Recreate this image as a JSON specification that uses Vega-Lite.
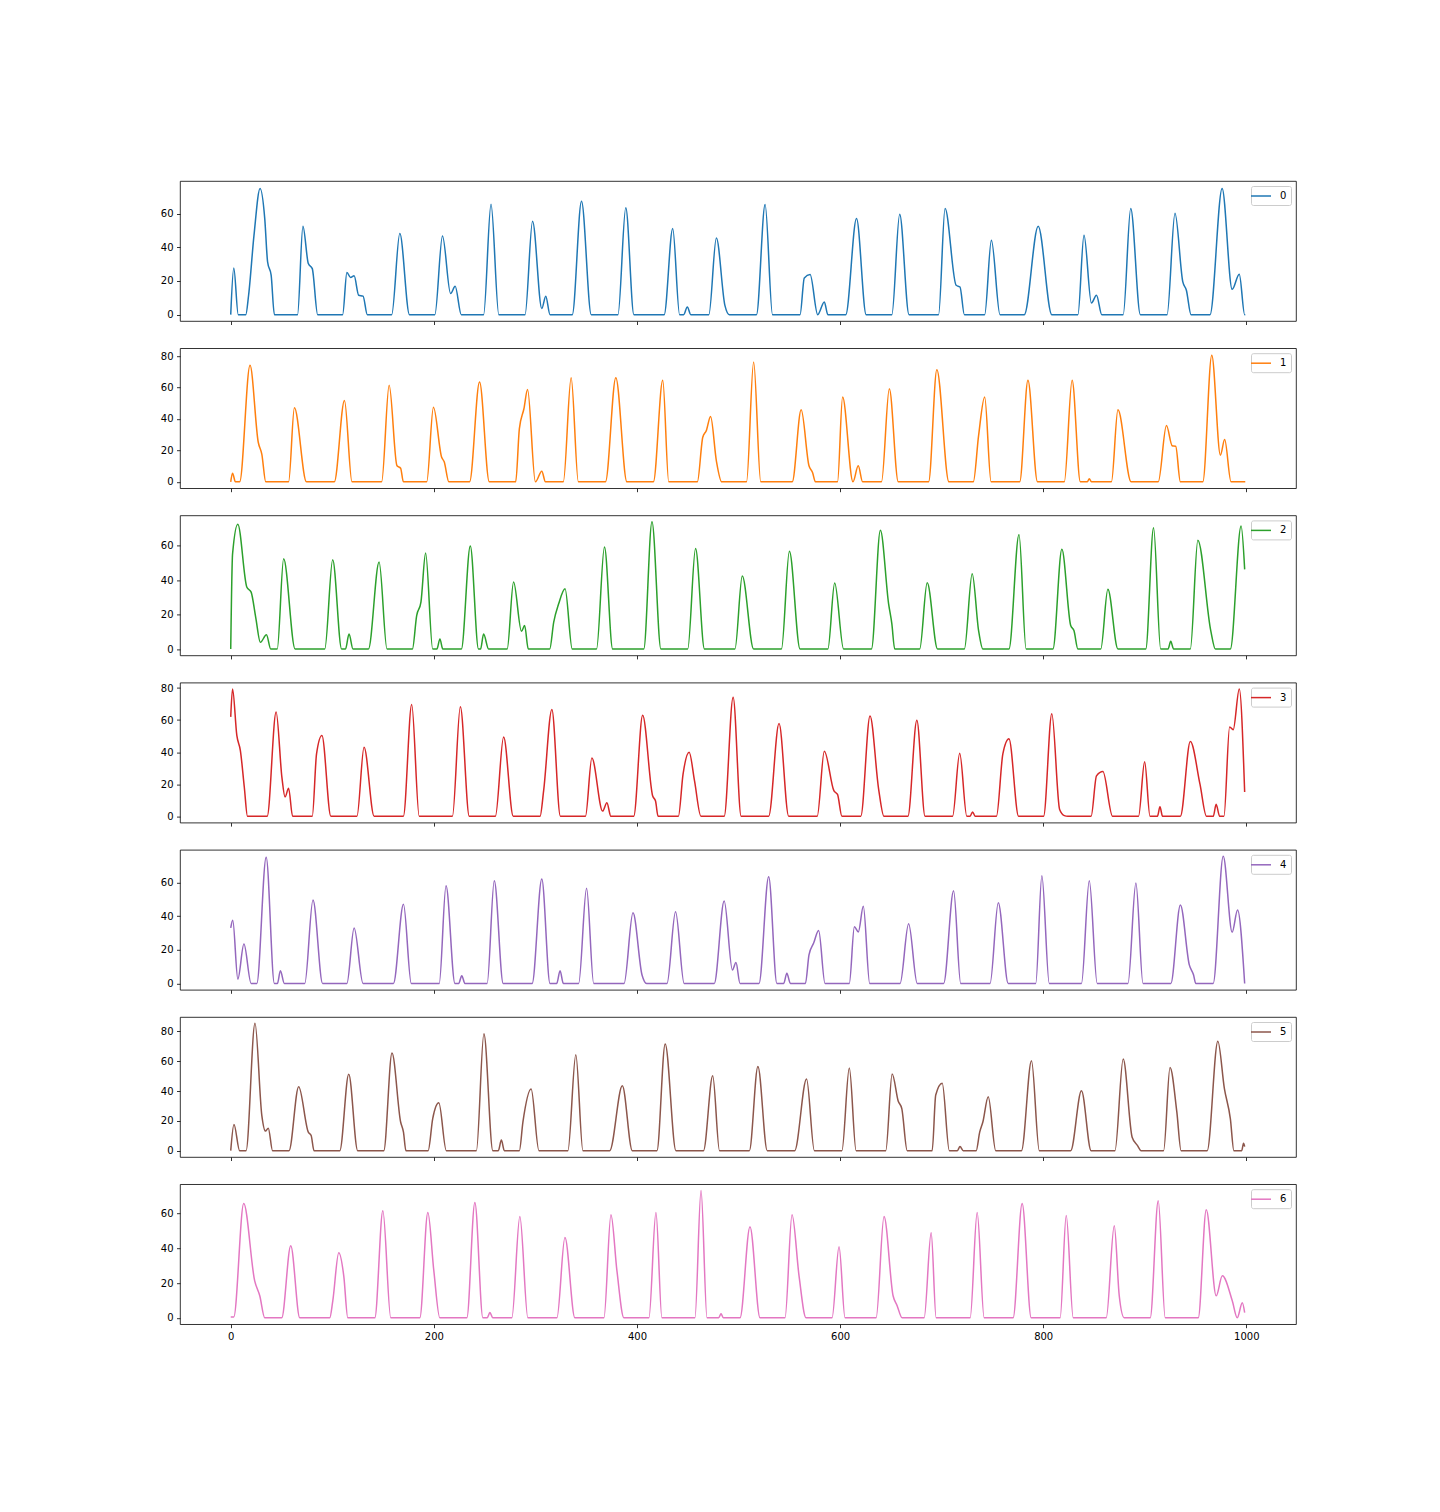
{
"$schema": "https://vega.github.io/schema/vega-lite/v6.json",
"background": "white",
"padding": {"left": 159, "top": 180, "right": 5, "bottom": 5},
"autosize": {"type": "pad"},
"spacing": 27.2,
"bounds": "flush",
"resolve": {"scale": {"color": "independent"}, "legend": {"color": "independent"}},
"datasets": {
"d0": [{"x":0,"v":0},{"x":3,"v":27.7},{"x":7.4,"v":0},{"x":14.8,"v":0},{"x":17.6,"v":11.5},{"x":22.9,"v":47},{"x":28.9,"v":74.9},{"x":33.5,"v":57},{"x":36.3,"v":31.3},{"x":39.8,"v":23.4},{"x":43,"v":0},{"x":65.8,"v":0},{"x":71.1,"v":52.5},{"x":76.4,"v":30.3},{"x":80.3,"v":27.3},{"x":85.6,"v":0},{"x":110.2,"v":0},{"x":114.4,"v":25},{"x":118,"v":22},{"x":121.5,"v":23},{"x":126,"v":11.5},{"x":130.3,"v":11},{"x":134.5,"v":0},{"x":158.5,"v":0},{"x":166.5,"v":48.1},{"x":176,"v":0},{"x":201,"v":0},{"x":208.5,"v":46.7},{"x":216.5,"v":12.5},{"x":221,"v":16.8},{"x":227,"v":0},{"x":249,"v":0},{"x":256.3,"v":65.5},{"x":264,"v":0},{"x":289.8,"v":0},{"x":297.2,"v":55.4},{"x":306.3,"v":3.6},{"x":310.2,"v":10.9},{"x":314.4,"v":0},{"x":336.3,"v":0},{"x":345.4,"v":67.3},{"x":355,"v":0},{"x":381.3,"v":0},{"x":389,"v":63.4},{"x":397,"v":0},{"x":426.8,"v":0},{"x":435.2,"v":51.1},{"x":442,"v":0},{"x":446,"v":0},{"x":449.6,"v":4.5},{"x":453,"v":0},{"x":470.8,"v":0},{"x":478.2,"v":45.5},{"x":486.6,"v":5.5},{"x":491,"v":0},{"x":517.7,"v":0},{"x":526.2,"v":65.3},{"x":533.5,"v":0},{"x":560.6,"v":0},{"x":564.8,"v":21.8},{"x":570.5,"v":23.8},{"x":578,"v":0},{"x":584.5,"v":7.5},{"x":588,"v":0},{"x":605.6,"v":0},{"x":616.2,"v":57},{"x":625.7,"v":0},{"x":651,"v":0},{"x":658.7,"v":59.6},{"x":667.9,"v":0},{"x":697,"v":0},{"x":703.4,"v":63},{"x":714.3,"v":17.4},{"x":718.1,"v":16.4},{"x":722.4,"v":0},{"x":742.4,"v":0},{"x":749,"v":44.2},{"x":757.5,"v":0},{"x":781.4,"v":0},{"x":795.1,"v":52.5},{"x":808.5,"v":0},{"x":834.2,"v":0},{"x":840.2,"v":47.1},{"x":847.5,"v":6.9},{"x":852.5,"v":11.5},{"x":857.7,"v":0},{"x":878.8,"v":0},{"x":886.2,"v":63},{"x":895.7,"v":0},{"x":922,"v":0},{"x":929.8,"v":60.2},{"x":937.5,"v":19.4},{"x":941,"v":14.5},{"x":945.6,"v":0},{"x":964.3,"v":0},{"x":976.2,"v":74.9},{"x":986.1,"v":15},{"x":993.1,"v":24},{"x":998.4,"v":0},{"x":999,"v":0}],
"d1": [{"x":0,"v":0},{"x":1.8,"v":5.5},{"x":4.6,"v":0},{"x":8.8,"v":0},{"x":19,"v":74.2},{"x":27.1,"v":25.2},{"x":30.6,"v":17.7},{"x":34.5,"v":0},{"x":57,"v":0},{"x":62.7,"v":47.1},{"x":74.6,"v":0},{"x":102,"v":0},{"x":112,"v":51.8},{"x":119.4,"v":0},{"x":148.6,"v":0},{"x":156,"v":61.4},{"x":163.7,"v":10.2},{"x":167.3,"v":8.7},{"x":170,"v":0},{"x":193,"v":0},{"x":199.6,"v":47.5},{"x":207.7,"v":15.6},{"x":210.2,"v":12.8},{"x":214.8,"v":0},{"x":235.2,"v":0},{"x":245,"v":63.5},{"x":254.6,"v":0},{"x":280.6,"v":0},{"x":284.2,"v":33.7},{"x":288.7,"v":46.5},{"x":292.3,"v":58.8},{"x":300,"v":0},{"x":306.3,"v":6.8},{"x":309.9,"v":0},{"x":327.5,"v":0},{"x":335.2,"v":66.3},{"x":342.3,"v":0},{"x":369,"v":0},{"x":379.2,"v":66.3},{"x":390.1,"v":0},{"x":416.2,"v":0},{"x":425.4,"v":64.6},{"x":431.3,"v":0},{"x":459.5,"v":0},{"x":464.8,"v":28.4},{"x":468.3,"v":32.6},{"x":472.5,"v":41.6},{"x":478.2,"v":13.4},{"x":483.5,"v":0},{"x":507.9,"v":0},{"x":514.9,"v":76.3},{"x":521.9,"v":0},{"x":552.9,"v":0},{"x":561.7,"v":45.8},{"x":569.4,"v":10.2},{"x":572.9,"v":6},{"x":575.7,"v":0},{"x":597.5,"v":0},{"x":602.5,"v":54},{"x":612.7,"v":0},{"x":617.9,"v":10.2},{"x":622.2,"v":0},{"x":640.8,"v":0},{"x":648.5,"v":59.3},{"x":657.3,"v":0},{"x":687.2,"v":0},{"x":695.3,"v":71.4},{"x":707.2,"v":0},{"x":731.2,"v":0},{"x":736.4,"v":29.4},{"x":742.4,"v":54},{"x":748.7,"v":0},{"x":776.9,"v":0},{"x":785,"v":64.6},{"x":794.4,"v":0},{"x":820.8,"v":0},{"x":828.5,"v":64.6},{"x":836.6,"v":0},{"x":843.5,"v":0},{"x":845.4,"v":2},{"x":847.5,"v":0},{"x":867.2,"v":0},{"x":873.6,"v":45.8},{"x":886.6,"v":0},{"x":913.3,"v":0},{"x":921.4,"v":35.8},{"x":927,"v":23},{"x":930.5,"v":22.6},{"x":935.1,"v":0},{"x":957.2,"v":0},{"x":966,"v":80.6},{"x":974.5,"v":17},{"x":978.7,"v":26.9},{"x":985,"v":0},{"x":999,"v":0}],
"d2": [{"x":0,"v":0},{"x":1.8,"v":55},{"x":7,"v":72.4},{"x":15.8,"v":36},{"x":20.1,"v":33},{"x":24.6,"v":18.4},{"x":29.2,"v":3.9},{"x":35.2,"v":8.3},{"x":39.4,"v":0},{"x":45.8,"v":0},{"x":52.1,"v":52.4},{"x":63.4,"v":0},{"x":92.6,"v":0},{"x":100.4,"v":51.8},{"x":109.2,"v":0},{"x":113,"v":0},{"x":116.5,"v":8.7},{"x":120.4,"v":0},{"x":135.6,"v":0},{"x":146.1,"v":50.5},{"x":153.9,"v":0},{"x":178.9,"v":0},{"x":183.1,"v":19.4},{"x":187.3,"v":27.2},{"x":191.9,"v":55.7},{"x":198.9,"v":0},{"x":203,"v":0},{"x":206,"v":5.8},{"x":208.8,"v":0},{"x":227.1,"v":0},{"x":235.9,"v":59.8},{"x":244,"v":0},{"x":246,"v":0},{"x":249,"v":8.7},{"x":253.9,"v":0},{"x":272.2,"v":0},{"x":278.5,"v":38.8},{"x":286.3,"v":10.3},{"x":289.4,"v":13.6},{"x":293,"v":0},{"x":314.1,"v":0},{"x":318,"v":15.5},{"x":322.9,"v":26.2},{"x":329.2,"v":35},{"x":336.3,"v":0},{"x":360.2,"v":0},{"x":368,"v":59.2},{"x":376.1,"v":0},{"x":406.7,"v":0},{"x":414.8,"v":73.8},{"x":423.6,"v":0},{"x":450,"v":0},{"x":457.7,"v":58.3},{"x":466.5,"v":0},{"x":496.5,"v":0},{"x":503.7,"v":42.3},{"x":514.9,"v":0},{"x":542.3,"v":0},{"x":550.1,"v":56.7},{"x":560.6,"v":0},{"x":588,"v":0},{"x":594.7,"v":38.3},{"x":603.5,"v":0},{"x":630.9,"v":0},{"x":639.7,"v":68.9},{"x":647.8,"v":26.2},{"x":651,"v":14.6},{"x":653.8,"v":0},{"x":678.4,"v":0},{"x":685.8,"v":38.4},{"x":696,"v":0},{"x":722.4,"v":0},{"x":730.1,"v":43.7},{"x":736.4,"v":10.7},{"x":740.6,"v":0},{"x":766.3,"v":0},{"x":776.2,"v":66.4},{"x":783.2,"v":0},{"x":809.6,"v":0},{"x":818.4,"v":57.9},{"x":827.1,"v":13.6},{"x":830.3,"v":10.7},{"x":834.2,"v":0},{"x":856.7,"v":0},{"x":863.7,"v":34.6},{"x":873.6,"v":0},{"x":901,"v":0},{"x":908.7,"v":70.3},{"x":915.7,"v":0},{"x":923,"v":0},{"x":925.6,"v":4.5},{"x":928.4,"v":0},{"x":944.9,"v":0},{"x":952.3,"v":63.1},{"x":965,"v":10.7},{"x":969.6,"v":0},{"x":984.3,"v":0},{"x":994.9,"v":71.3},{"x":998.4,"v":46.2}],
"d3": [{"x":0,"v":62},{"x":1.8,"v":79.4},{"x":6,"v":50.4},{"x":9.5,"v":41},{"x":13.4,"v":17.9},{"x":16.5,"v":0},{"x":35.9,"v":0},{"x":44.7,"v":65.1},{"x":50.4,"v":24.2},{"x":53.5,"v":12},{"x":57,"v":17.4},{"x":60.9,"v":0},{"x":80.3,"v":0},{"x":84.5,"v":38.9},{"x":89.8,"v":50.4},{"x":98.6,"v":0},{"x":124.3,"v":0},{"x":131.3,"v":43},{"x":141.2,"v":0},{"x":170,"v":0},{"x":178.2,"v":69.7},{"x":185.6,"v":0},{"x":218.3,"v":0},{"x":226.1,"v":68.3},{"x":234.9,"v":0},{"x":260.6,"v":0},{"x":268.7,"v":49.4},{"x":278.2,"v":0},{"x":304.6,"v":0},{"x":308.1,"v":15.8},{"x":316.2,"v":66.6},{"x":324.6,"v":0},{"x":349.3,"v":0},{"x":355.6,"v":36.3},{"x":366.2,"v":3.2},{"x":370.4,"v":8.4},{"x":374.3,"v":0},{"x":396.8,"v":0},{"x":405.6,"v":63},{"x":415.5,"v":12.6},{"x":418.3,"v":9.5},{"x":420.8,"v":0},{"x":440.8,"v":0},{"x":445.4,"v":26.3},{"x":451.4,"v":39.9},{"x":456.7,"v":22},{"x":463,"v":0},{"x":485.9,"v":0},{"x":494.7,"v":74.2},{"x":502.6,"v":0},{"x":529.7,"v":0},{"x":539.9,"v":57.8},{"x":549.4,"v":0},{"x":577.5,"v":0},{"x":584.5,"v":40.5},{"x":594,"v":15.8},{"x":597.5,"v":13.6},{"x":601.8,"v":0},{"x":620.4,"v":0},{"x":629.5,"v":62.6},{"x":638,"v":16.8},{"x":643.2,"v":0},{"x":666.8,"v":0},{"x":675.6,"v":59.9},{"x":683.7,"v":0},{"x":710.8,"v":0},{"x":717.8,"v":39.3},{"x":724.8,"v":0},{"x":728,"v":0},{"x":730.5,"v":2.7},{"x":733,"v":0},{"x":754,"v":0},{"x":760.3,"v":38.9},{"x":766.3,"v":48.3},{"x":775.8,"v":0},{"x":800.4,"v":0},{"x":808.5,"v":64},{"x":816.2,"v":4.2},{"x":820.8,"v":0.4},{"x":824.3,"v":0},{"x":847.2,"v":0},{"x":852.5,"v":25.2},{"x":858.8,"v":27.9},{"x":868.3,"v":0},{"x":893.9,"v":0},{"x":899.9,"v":34},{"x":905.2,"v":0},{"x":912.5,"v":0},{"x":915,"v":5.9},{"x":917.5,"v":0},{"x":935.1,"v":0},{"x":944.9,"v":46.6},{"x":954.4,"v":20},{"x":960.8,"v":0},{"x":967.5,"v":0},{"x":970.3,"v":7.4},{"x":973.8,"v":0},{"x":978,"v":0},{"x":983.6,"v":55.7},{"x":987.1,"v":54},{"x":993.1,"v":79.4},{"x":998.4,"v":15.1}],
"d4": [{"x":0,"v":33},{"x":2,"v":37.6},{"x":7,"v":2.6},{"x":13,"v":23.4},{"x":20.1,"v":0},{"x":25.7,"v":0},{"x":34.9,"v":75},{"x":43,"v":0},{"x":46,"v":0},{"x":48.9,"v":7.6},{"x":52.8,"v":0},{"x":72.9,"v":0},{"x":81,"v":49.6},{"x":90.5,"v":0},{"x":114.4,"v":0},{"x":121.5,"v":33},{"x":130.3,"v":0},{"x":160.2,"v":0},{"x":170.1,"v":47},{"x":177.8,"v":0},{"x":205.3,"v":0},{"x":212,"v":58},{"x":220.8,"v":0},{"x":224.5,"v":0},{"x":227.5,"v":4.6},{"x":230.6,"v":0},{"x":252.5,"v":0},{"x":259.5,"v":61},{"x":268.3,"v":0},{"x":296.8,"v":0},{"x":306.3,"v":62},{"x":314.4,"v":0},{"x":321,"v":0},{"x":324.3,"v":7.6},{"x":327.5,"v":0},{"x":342.6,"v":0},{"x":350.4,"v":56.6},{"x":357.4,"v":0},{"x":387.3,"v":0},{"x":396.1,"v":42},{"x":405,"v":5},{"x":409.5,"v":0},{"x":429.6,"v":0},{"x":438,"v":42.6},{"x":446.5,"v":0},{"x":476.1,"v":0},{"x":485.9,"v":49},{"x":494,"v":8},{"x":497.5,"v":12.4},{"x":501.5,"v":0},{"x":520.2,"v":0},{"x":529.7,"v":63.4},{"x":537.8,"v":0},{"x":544.5,"v":0},{"x":547.6,"v":6},{"x":551.1,"v":0},{"x":565.9,"v":0},{"x":569.4,"v":17},{"x":574,"v":24},{"x":578.9,"v":31.4},{"x":585.2,"v":0},{"x":609.1,"v":0},{"x":614.1,"v":33.6},{"x":618,"v":30.6},{"x":622.9,"v":45.8},{"x":629.2,"v":0},{"x":659.1,"v":0},{"x":667.5,"v":35.4},{"x":676,"v":0},{"x":702,"v":0},{"x":711.8,"v":55},{"x":718.8,"v":0},{"x":747.7,"v":0},{"x":755.8,"v":48},{"x":765.6,"v":0},{"x":792.7,"v":0},{"x":798.7,"v":64},{"x":806,"v":0},{"x":837.7,"v":0},{"x":845.4,"v":61},{"x":853.2,"v":0},{"x":883.5,"v":0},{"x":891.3,"v":59.6},{"x":898.3,"v":0},{"x":925.7,"v":0},{"x":935.1,"v":46.6},{"x":943.9,"v":11},{"x":948.1,"v":5},{"x":950.2,"v":0},{"x":967.4,"v":0},{"x":977.3,"v":75.6},{"x":986.1,"v":30.4},{"x":991.4,"v":43.6},{"x":998.4,"v":0}],
"d5": [{"x":0,"v":0},{"x":3.2,"v":17.6},{"x":8.8,"v":0},{"x":15.1,"v":0},{"x":23.9,"v":85.4},{"x":30.6,"v":23.7},{"x":34.2,"v":13.1},{"x":37,"v":15.1},{"x":41.2,"v":0},{"x":57.4,"v":0},{"x":66.9,"v":42.9},{"x":76.4,"v":12.4},{"x":79.2,"v":10.2},{"x":82,"v":0},{"x":107.4,"v":0},{"x":116.2,"v":51.3},{"x":125,"v":0},{"x":150.7,"v":0},{"x":158.8,"v":65.5},{"x":167.3,"v":19.2},{"x":170.1,"v":12.4},{"x":172.5,"v":0},{"x":194.4,"v":0},{"x":198.9,"v":21.5},{"x":204.9,"v":32.1},{"x":212.3,"v":0},{"x":241.9,"v":0},{"x":249.3,"v":78.4},{"x":258.1,"v":0},{"x":263.5,"v":0},{"x":266.5,"v":7.2},{"x":269.4,"v":0},{"x":284.2,"v":0},{"x":287.7,"v":19.2},{"x":295.8,"v":41.4},{"x":303.5,"v":0},{"x":332,"v":0},{"x":339.8,"v":64.4},{"x":346.8,"v":0},{"x":373.2,"v":0},{"x":385.6,"v":43.6},{"x":395.4,"v":0},{"x":419.7,"v":0},{"x":427.8,"v":71.6},{"x":438.4,"v":0},{"x":465.5,"v":0},{"x":474.6,"v":50.2},{"x":481.3,"v":0},{"x":510.7,"v":0},{"x":519.1,"v":56.5},{"x":528.3,"v":0},{"x":555.3,"v":0},{"x":567,"v":48.1},{"x":574.7,"v":0},{"x":601.8,"v":0},{"x":609.1,"v":55.4},{"x":615.8,"v":0},{"x":645,"v":0},{"x":651.3,"v":51.5},{"x":657.3,"v":33.2},{"x":660.8,"v":28.2},{"x":666.1,"v":0},{"x":690.7,"v":0},{"x":694.2,"v":37.3},{"x":700.6,"v":45.2},{"x":707.6,"v":0},{"x":715.5,"v":0},{"x":718.1,"v":2.7},{"x":721.3,"v":0},{"x":734,"v":0},{"x":737.5,"v":12.4},{"x":740.6,"v":19.2},{"x":745.9,"v":36.2},{"x":753.3,"v":0},{"x":778.6,"v":0},{"x":788.5,"v":60.3},{"x":796.2,"v":0},{"x":827.1,"v":0},{"x":837.7,"v":40.2},{"x":847.2,"v":0},{"x":870.7,"v":0},{"x":878.8,"v":61.5},{"x":887.6,"v":9},{"x":892.9,"v":3.4},{"x":896.4,"v":0},{"x":918.6,"v":0},{"x":924.9,"v":55.8},{"x":931.6,"v":26},{"x":935.8,"v":0},{"x":961.5,"v":0},{"x":972,"v":73.4},{"x":978.4,"v":41.8},{"x":984.3,"v":21.5},{"x":987.8,"v":0},{"x":995.5,"v":0},{"x":997.3,"v":5},{"x":998.4,"v":2.7}],
"d6": [{"x":0,"v":0.5},{"x":3,"v":0.5},{"x":12.8,"v":65.8},{"x":23.6,"v":21.3},{"x":28.6,"v":12.7},{"x":33.5,"v":0},{"x":50.2,"v":0},{"x":59.1,"v":41.5},{"x":68,"v":0},{"x":97.5,"v":0},{"x":100.5,"v":9.8},{"x":106.4,"v":37.5},{"x":111.3,"v":24.2},{"x":115.3,"v":0},{"x":141.9,"v":0},{"x":149.8,"v":61.7},{"x":157.6,"v":0},{"x":186.2,"v":0},{"x":194.1,"v":60.6},{"x":200,"v":27},{"x":205.9,"v":0},{"x":232.5,"v":0},{"x":240.4,"v":66.4},{"x":248.3,"v":0},{"x":252.5,"v":0},{"x":255.2,"v":3},{"x":258.1,"v":0},{"x":276.8,"v":0},{"x":284.7,"v":58.3},{"x":292.6,"v":0},{"x":321.2,"v":0},{"x":329.1,"v":46.2},{"x":338.9,"v":0},{"x":367.5,"v":0},{"x":374.4,"v":59.4},{"x":380.3,"v":27},{"x":387.2,"v":0},{"x":411.8,"v":0},{"x":418.7,"v":60.6},{"x":424.6,"v":0},{"x":457.1,"v":0},{"x":463.1,"v":73.3},{"x":469,"v":0},{"x":480.5,"v":0},{"x":482.8,"v":2.3},{"x":485,"v":0},{"x":501.5,"v":0},{"x":511.3,"v":52.5},{"x":521.2,"v":0},{"x":545.8,"v":0},{"x":552.7,"v":59.4},{"x":559.6,"v":24.2},{"x":566.5,"v":0},{"x":592.1,"v":0},{"x":599,"v":41},{"x":604.9,"v":0},{"x":635.5,"v":0},{"x":643.3,"v":58.3},{"x":652.2,"v":12.7},{"x":656.2,"v":7},{"x":661.1,"v":0},{"x":682.8,"v":0},{"x":689.7,"v":49},{"x":694.6,"v":0},{"x":728.1,"v":0},{"x":735,"v":60.6},{"x":741.9,"v":0},{"x":770.4,"v":0},{"x":779.3,"v":65.8},{"x":788.2,"v":0},{"x":816.7,"v":0},{"x":822.7,"v":58.9},{"x":829.6,"v":0},{"x":862.1,"v":0},{"x":870,"v":53},{"x":874.9,"v":12.7},{"x":879.8,"v":0},{"x":905.4,"v":0},{"x":913.3,"v":67.5},{"x":920.2,"v":0},{"x":952.7,"v":0},{"x":960.6,"v":62.3},{"x":970.4,"v":12.7},{"x":976.4,"v":24.2},{"x":986.2,"v":9.8},{"x":991.1,"v":0},{"x":996.1,"v":8.7},{"x":998.4,"v":3}]
},
"config": {
"font": "DejaVu Sans",
"view": {"stroke": "black", "strokeWidth": 0.8},
"axis": {"domain": false, "grid": false, "tickColor": "black", "tickWidth": 0.8, "tickSize": 3.5, "labelPadding": 3.5, "labelFontSize": 10, "labelColor": "black", "labelFont": "DejaVu Sans", "labelFlush": false, "title": null, "format": "d"},
"legend": {"orient": "top-right", "offset": 5, "title": null, "symbolType": "M-2,0L2,0", "symbolSize": 100, "symbolStrokeWidth": 1.5, "labelFontSize": 10, "labelColor": "black", "labelFont": "DejaVu Sans", "labelOffset": 13, "padding": 4, "fillColor": "rgba(255,255,255,0.8)", "strokeColor": "#cccccc", "cornerRadius": 2}
},
"vconcat": [
{"width": 1116, "height": 140, "data": {"name": "d0"},
 "mark": {"type": "line", "interpolate": "monotone", "strokeWidth": 1.5},
 "encoding": {
  "x": {"field": "x", "type": "quantitative", "scale": {"domain": [-49.95, 1048.95], "nice": false, "zero": false}, "axis": {"values": [0,200,400,600,800,1000], "labels": false}},
  "y": {"field": "v", "type": "quantitative", "scale": {"domain": [-3.78, 79.3], "nice": false, "zero": false}, "axis": {"values": [0,20,40,60]}},
  "color": {"datum": "0", "type": "nominal", "scale": {"domain": ["0"], "range": ["#1f77b4"]}}
 }},
{"width": 1116, "height": 140, "data": {"name": "d1"},
 "mark": {"type": "line", "interpolate": "monotone", "strokeWidth": 1.5},
 "encoding": {
  "x": {"field": "x", "type": "quantitative", "scale": {"domain": [-49.95, 1048.95], "nice": false, "zero": false}, "axis": {"values": [0,200,400,600,800,1000], "labels": false}},
  "y": {"field": "v", "type": "quantitative", "scale": {"domain": [-4.05, 85.05], "nice": false, "zero": false}, "axis": {"values": [0,20,40,60,80]}},
  "color": {"datum": "1", "type": "nominal", "scale": {"domain": ["1"], "range": ["#ff7f0e"]}}
 }},
{"width": 1116, "height": 140, "data": {"name": "d2"},
 "mark": {"type": "line", "interpolate": "monotone", "strokeWidth": 1.5},
 "encoding": {
  "x": {"field": "x", "type": "quantitative", "scale": {"domain": [-49.95, 1048.95], "nice": false, "zero": false}, "axis": {"values": [0,200,400,600,800,1000], "labels": false}},
  "y": {"field": "v", "type": "quantitative", "scale": {"domain": [-3.69, 77.49], "nice": false, "zero": false}, "axis": {"values": [0,20,40,60]}},
  "color": {"datum": "2", "type": "nominal", "scale": {"domain": ["2"], "range": ["#2ca02c"]}}
 }},
{"width": 1116, "height": 140, "data": {"name": "d3"},
 "mark": {"type": "line", "interpolate": "monotone", "strokeWidth": 1.5},
 "encoding": {
  "x": {"field": "x", "type": "quantitative", "scale": {"domain": [-49.95, 1048.95], "nice": false, "zero": false}, "axis": {"values": [0,200,400,600,800,1000], "labels": false}},
  "y": {"field": "v", "type": "quantitative", "scale": {"domain": [-3.97, 83.37], "nice": false, "zero": false}, "axis": {"values": [0,20,40,60,80]}},
  "color": {"datum": "3", "type": "nominal", "scale": {"domain": ["3"], "range": ["#d62728"]}}
 }},
{"width": 1116, "height": 140, "data": {"name": "d4"},
 "mark": {"type": "line", "interpolate": "monotone", "strokeWidth": 1.5},
 "encoding": {
  "x": {"field": "x", "type": "quantitative", "scale": {"domain": [-49.95, 1048.95], "nice": false, "zero": false}, "axis": {"values": [0,200,400,600,800,1000], "labels": false}},
  "y": {"field": "v", "type": "quantitative", "scale": {"domain": [-3.78, 79.38], "nice": false, "zero": false}, "axis": {"values": [0,20,40,60]}},
  "color": {"datum": "4", "type": "nominal", "scale": {"domain": ["4"], "range": ["#9467bd"]}}
 }},
{"width": 1116, "height": 140, "data": {"name": "d5"},
 "mark": {"type": "line", "interpolate": "monotone", "strokeWidth": 1.5},
 "encoding": {
  "x": {"field": "x", "type": "quantitative", "scale": {"domain": [-49.95, 1048.95], "nice": false, "zero": false}, "axis": {"values": [0,200,400,600,800,1000], "labels": false}},
  "y": {"field": "v", "type": "quantitative", "scale": {"domain": [-4.27, 89.67], "nice": false, "zero": false}, "axis": {"values": [0,20,40,60,80]}},
  "color": {"datum": "5", "type": "nominal", "scale": {"domain": ["5"], "range": ["#8c564b"]}}
 }},
{"width": 1116, "height": 140, "data": {"name": "d6"},
 "mark": {"type": "line", "interpolate": "monotone", "strokeWidth": 1.5},
 "encoding": {
  "x": {"field": "x", "type": "quantitative", "scale": {"domain": [-49.95, 1048.95], "nice": false, "zero": false}, "axis": {"values": [0,200,400,600,800,1000]}},
  "y": {"field": "v", "type": "quantitative", "scale": {"domain": [-3.67, 76.97], "nice": false, "zero": false}, "axis": {"values": [0,20,40,60]}},
  "color": {"datum": "6", "type": "nominal", "scale": {"domain": ["6"], "range": ["#e377c2"]}}
 }}
]
}
